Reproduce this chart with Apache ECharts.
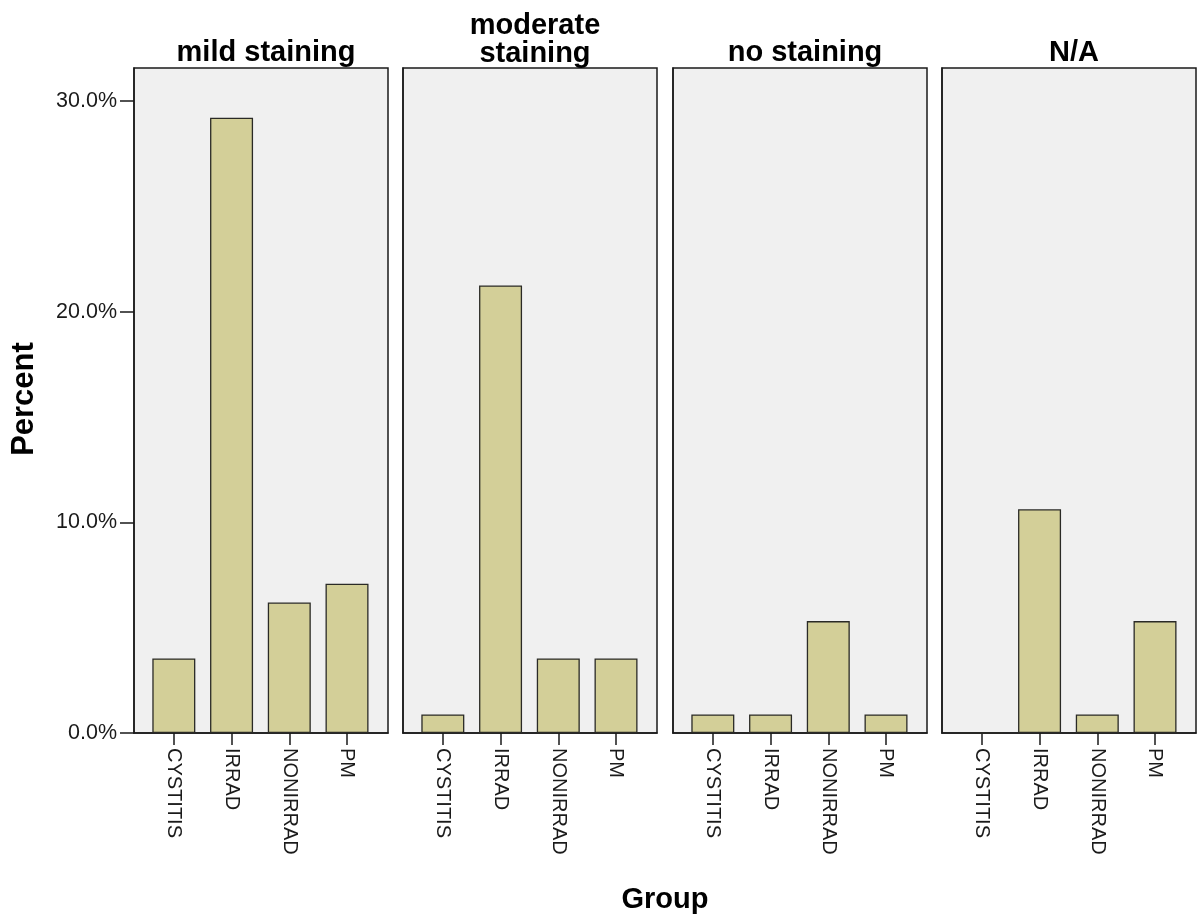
<!DOCTYPE html>
<html>
<head>
<meta charset="utf-8">
<script src="https://cdn.jsdelivr.net/npm/echarts@6/dist/echarts.min.js"></script>
<style>
  html, body { margin: 0; padding: 0; background: #fff; }
  #chart { width: 1197px; height: 920px; }
</style>
</head>
<body>
<div id="chart"></div>
<script>
// Staining level panels and the groups shown in each
const panels = ['mild staining', 'moderate\nstaining', 'no staining', 'N/A'];
const groups = ['CYSTITIS', 'IRRAD', 'NONIRRAD', 'PM'];

// Percent of all cases, one array per staining panel (order follows `groups`)
const mildStaining     = [3.54, 29.20, 6.19, 7.08];
const moderateStaining = [0.88, 21.24, 3.54, 3.54];
const noStaining       = [0.88, 0.88, 5.31, 0.88];
const notAvailable     = [0.00, 10.62, 0.88, 5.31];
const panelValues = [mildStaining, moderateStaining, noStaining, notAvailable];

// Y axis tick values
const yTicks = [0, 10, 20, 30];

const FONT = '"Liberation Sans", Arial, sans-serif';
const panelLeft = [134, 403, 673, 942];
const panelWidth = 254;
const plotTop = 68;
const plotHeight = 665;

const grids = [], xAxes = [], yAxes = [], series = [], titles = [];

panels.forEach((name, i) => {
  grids.push({
    left: panelLeft[i], top: plotTop, width: panelWidth, height: plotHeight,
    show: true, backgroundColor: '#f0f0f0', borderColor: '#1a1a1a', borderWidth: 1.5,
    containLabel: false
  });
  xAxes.push({
    type: 'value', gridIndex: i, min: -0.69, max: 3.71,
    splitLine: { show: false },
    axisLine: { show: true, onZero: false, lineStyle: { color: '#1a1a1a', width: 1.5 } },
    axisTick: { show: true, length: 12, customValues: groups.map((g, k) => k),
      lineStyle: { color: '#1a1a1a', width: 1.5 } },
    axisLabel: {
      show: true, customValues: groups.map((g, k) => k),
      formatter: v => groups[Math.round(v)] || '',
      rotate: -90, margin: 15, color: '#1a1a1a', fontSize: 20, fontFamily: FONT
    }
  });
  yAxes.push({
    type: 'value', gridIndex: i, min: 0, max: 31.56,
    splitLine: { show: false },
    axisLine: { show: true, onZero: false, lineStyle: { color: '#1a1a1a', width: 1.5 } },
    axisTick: { show: i === 0, length: 14, customValues: yTicks,
      lineStyle: { color: '#1a1a1a', width: 1.5 } },
    axisLabel: {
      show: i === 0, margin: 17, color: '#1a1a1a', fontSize: 21.5, fontFamily: FONT,
      customValues: yTicks,
      formatter: v => v.toFixed(1) + '%'
    }
  });
  series.push({
    type: 'bar', xAxisIndex: i, yAxisIndex: i,
    data: panelValues[i].map((v, k) => [k, v]),
    barWidth: 43,
    itemStyle: { color: '#d3cf98', borderColor: '#2a2a26', borderWidth: 1.3 },
    silent: true
  });
  const isTwoLine = name.indexOf('\n') >= 0;
  titles.push({
    text: name,
    left: panelLeft[i] + panelWidth / 2,
    textAlign: 'center',
    top: isTwoLine ? 7 : 34,
    textStyle: {
      fontFamily: FONT, fontWeight: 'bold', fontSize: 29, color: '#000',
      lineHeight: 28
    }
  });
});

const chart = echarts.init(document.getElementById('chart'), null, { renderer: 'canvas' });
chart.setOption({
  animation: false,
  backgroundColor: '#ffffff',
  title: titles,
  grid: grids,
  xAxis: xAxes,
  yAxis: yAxes,
  series: series,
  graphic: [
    {
      type: 'text',
      x: 24, y: 399, rotation: Math.PI / 2,
      style: { text: 'Percent', fontFamily: FONT, fontWeight: 'bold', fontSize: 31, fill: '#000',
        align: 'center', verticalAlign: 'middle' }
    },
    {
      type: 'text',
      x: 665, y: 900,
      style: { text: 'Group', fontFamily: FONT, fontWeight: 'bold', fontSize: 29, fill: '#000',
        align: 'center', verticalAlign: 'middle' }
    }
  ]
});
</script>
</body>
</html>
